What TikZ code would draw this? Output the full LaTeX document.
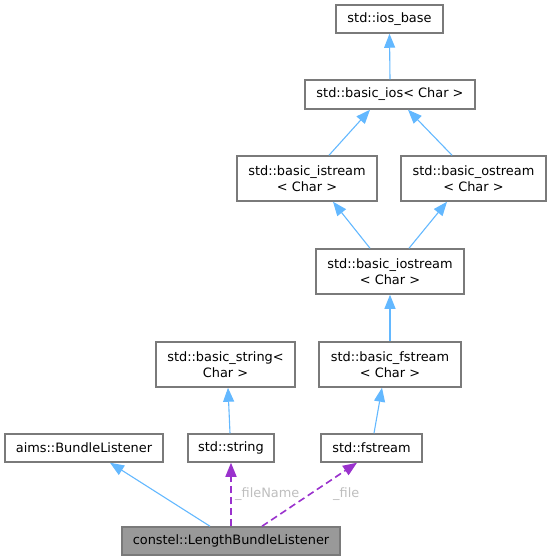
\documentclass[tikz,border=0pt]{standalone}
\usepackage{fontspec}
\setmainfont{DejaVu Sans}
\usetikzlibrary{arrows.meta}
\definecolor{boxborder}{HTML}{7A7A7A}
\definecolor{mainfill}{HTML}{999999}
\definecolor{inhcol}{HTML}{63B8FF}
\definecolor{usecol}{HTML}{9A32CD}
\definecolor{lblcol}{HTML}{BEBEBE}
\tikzset{
  cls/.style={draw=boxborder, line width=1.5pt, fill=white, inner sep=0pt, align=center,
    font=\fontsize{12.9pt}{16pt}\selectfont, text=black},
  inh/.style={draw=inhcol, line width=1.1pt, -{Triangle[length=14pt,width=11pt]}, color=inhcol},
  use/.style={draw=usecol, line width=1.6pt, dash pattern=on 7pt off 4pt, -{Triangle[length=14pt,width=11pt]}, color=usecol},
  lbl/.style={text=lblcol, inner sep=0pt, anchor=west, font=\fontsize{12.9pt}{16pt}\selectfont},
}
\begin{document}
\begin{tikzpicture}[x=1pt,y=-1pt]
\useasboundingbox (0,0) rectangle (551,560);
\node[cls, minimum width=107pt, minimum height=28pt] (iosbase) at (389.5,19) {std::ios\_base};
\node[cls, minimum width=170pt, minimum height=29pt] (ios) at (390,94.5) {std::basic\_ios< Char >};
\node[cls, minimum width=140pt, minimum height=45pt] (istream) at (307,178.5) {std::basic\_istream\\< Char >};
\node[cls, minimum width=145pt, minimum height=45pt] (ostream) at (473.5,178.5) {std::basic\_ostream\\< Char >};
\node[cls, minimum width=148pt, minimum height=45pt] (iostream) at (390,271.5) {std::basic\_iostream\\< Char >};
\node[cls, minimum width=139pt, minimum height=45pt] (bstring) at (225.5,364.5) {std::basic\_string<\\Char >};
\node[cls, minimum width=142pt, minimum height=45pt] (bfstream) at (390,364.5) {std::basic\_fstream\\< Char >};
\node[cls, minimum width=158pt, minimum height=28pt] (aims) at (84,448) {aims::BundleListener};
\node[cls, minimum width=86pt, minimum height=28pt] (string) at (231,448) {std::string};
\node[cls, minimum width=101pt, minimum height=28pt] (fstream) at (371.5,448) {std::fstream};
\node[cls, fill=mainfill, minimum width=218pt, minimum height=28pt] (len) at (231,541) {constel::LengthBundleListener};

\draw[inh] ([xshift=-21pt]len.north) -- ([xshift=26pt]aims.south);
\draw[use] (len.north) -- (string.south);
\draw[use] ([xshift=31pt]len.north) -- ([xshift=-14.5pt]fstream.south);
\draw[inh] ([xshift=-1pt]string.north) -- ([xshift=2.5pt]bstring.south);
\draw[inh] ([xshift=2.5pt]fstream.north) -- ([xshift=-8pt]bfstream.south);
\draw[inh] (bfstream.north) -- (iostream.south);
\draw[inh] ([xshift=-20pt]iostream.north) -- ([xshift=26pt]istream.south);
\draw[inh] ([xshift=19pt]iostream.north) -- ([xshift=-26.5pt]ostream.south);
\draw[inh] ([xshift=22pt]istream.north) -- ([xshift=-20pt]ios.south);
\draw[inh] ([xshift=-21.5pt]ostream.north) -- ([xshift=18pt]ios.south);
\draw[inh] (ios.north) -- (iosbase.south);

\node[lbl] (lfn) at (235,494) {\_fileName};
\node[lbl] (lf) at (333,494) {\_file};
\end{tikzpicture}
\end{document}
